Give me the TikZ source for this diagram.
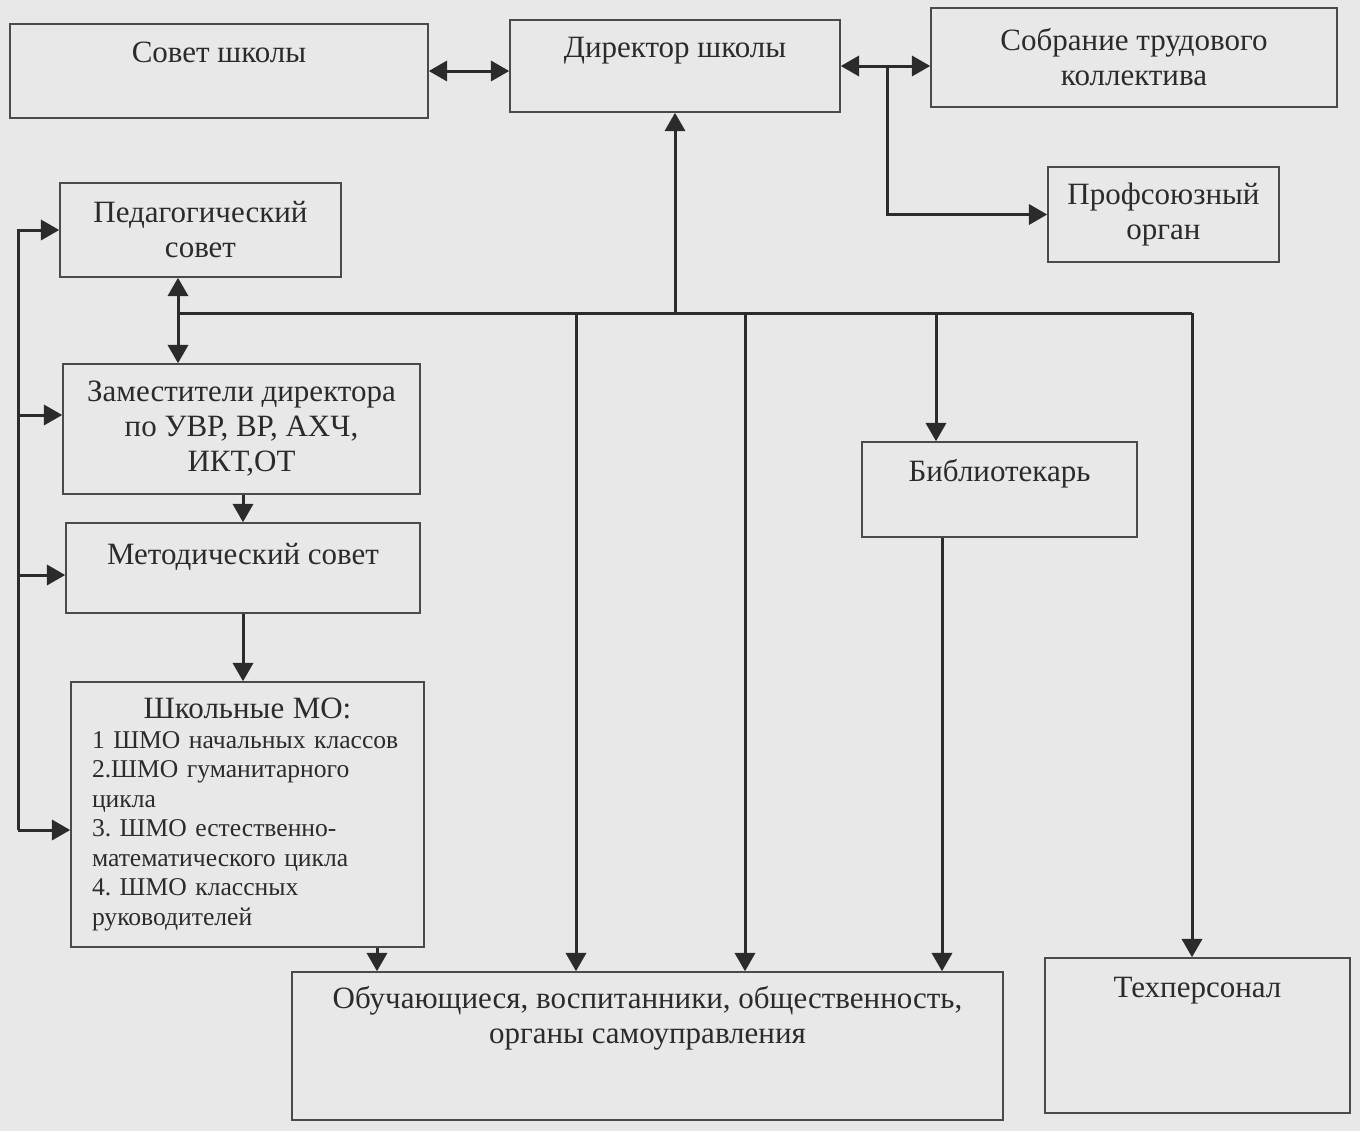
\documentclass[tikz,border=0pt]{standalone}
\usepackage{fontspec}
\setmainfont{Liberation Serif}
\usetikzlibrary{arrows}
\definecolor{paper}{HTML}{E8E8E8}
\definecolor{ink}{HTML}{2B2B2B}
\definecolor{frame}{HTML}{4A4A4A}
\frenchspacing

\begin{document}
\begin{tikzpicture}[x=0.5pt, y=-0.5pt, >=triangle 60,
    box/.style={rectangle, draw=frame, line width=0.9pt, align=center, text=ink, inner sep=2pt,
                font=\fontsize{15.5}{17.5}\selectfont},
    link/.style={draw=ink, line width=1.5pt}]
  \fill[paper] (0,0) rectangle (1360,1131);
  \useasboundingbox (0,0) rectangle (1360,1131);

  % top row
  \node[box, minimum width=209pt, minimum height=47pt, text depth=19pt] (sovet) at (219,71) {Совет школы};
  \node[box, minimum width=165pt, minimum height=46pt, text depth=19pt] (direktor) at (675,66) {Директор школы};
  \node[box, minimum width=203pt, minimum height=49.5pt] (sobranie) at (1134,57.5) {Собрание трудового\\коллектива};
  \node[box, minimum width=115.5pt, minimum height=47.5pt] (profsoyuz) at (1163.5,214.5) {Профсоюзный\\орган};

  % left column
  \node[box, minimum width=140.5pt, minimum height=47pt] (pedsovet) at (200.5,230) {Педагогический\\совет};
  \node[box, minimum width=178.5pt, minimum height=65pt] (zam) at (241.5,429) {Заместители директора\\по УВР, ВР, АХЧ,\\ИКТ,ОТ};
  \node[box, minimum width=177pt, minimum height=45pt, text depth=14pt] (metod) at (243,568) {Методический совет};
  \node[box, minimum width=176.5pt, minimum height=132.5pt, text width=155.5pt, align=left, inner xsep=10.5pt,
        font=\fontsize{12.8}{14.75}\selectfont] (shmo) at (247.5,814.5)
    {\makebox[155.5pt]{\fontsize{15.5}{17.5}\selectfont Школьные МО:}\\
     1 ШМО начальных классов\\2.ШМО гуманитарного\\цикла\\3. ШМО естественно-\\математического цикла\\4. ШМО классных\\руководителей};

  % right and bottom
  \node[box, minimum width=137.5pt, minimum height=47.5pt, text depth=19pt] (biblio) at (999.5,489.5) {Библиотекарь};
  \node[box, minimum width=355.5pt, minimum height=74pt, text depth=31pt] (obuch) at (647.5,1046) {Обучающиеся, воспитанники, общественность,\\органы самоуправления};
  \node[box, minimum width=152.5pt, minimum height=77.5pt, text depth=48pt] (tekh) at (1197.5,1035.5) {Техперсонал};

  % links at the top
  \draw[link,<->] (sovet.east) -- (sovet.east -| direktor.west);
  \draw[link,<->] (direktor.east) -- (direktor.east -| sobranie.west);
  \coordinate (razv) at (887,66);
  \draw[link,->] (razv) |- (profsoyuz.west);

  % main line
  \coordinate (shinaL) at (178,313);
  \coordinate (shinaR) at (1192,313);
  \coordinate (v1) at (576,313);
  \coordinate (v2) at (745,313);
  \coordinate (v3) at (936,313);
  \draw[link] (shinaL) -- (shinaR);
  \draw[link,<->] (pedsovet.south -| shinaL) -- (zam.north -| shinaL);
  \draw[link,->] (direktor.south |- shinaL) -- (direktor.south);
  \draw[link,->] (v1) -- (v1 |- obuch.north);
  \draw[link,->] (v2) -- (v2 |- obuch.north);
  \draw[link,->] (v3) -- (v3 |- biblio.north);
  \draw[link,->] (shinaR) -- (shinaR |- tekh.north);
  \coordinate (v4) at (942,537);
  \draw[link,->] (biblio.south -| v4) -- (v4 |- obuch.north);

  % left side
  \draw[link,->] (zam.south -| metod.north) -- (metod.north);
  \draw[link,->] (metod.south) -- (metod.south |- shmo.north);
  \coordinate (v0) at (377,947);
  \draw[link,->] (shmo.south -| v0) -- (v0 |- obuch.north);
  \coordinate (obr) at (18,230);
  \coordinate (obrZ) at (18,415);
  \coordinate (obrM) at (18,575);
  \coordinate (obrS) at (18,830);
  \draw[link,->] (obrS) -- (obr) -- (pedsovet.west);
  \draw[link,->] (obrZ) -- (obrZ -| zam.west);
  \draw[link,->] (obrM) -- (obrM -| metod.west);
  \draw[link,->] (obrS) -- (obrS -| shmo.west);
\end{tikzpicture}
\end{document}
